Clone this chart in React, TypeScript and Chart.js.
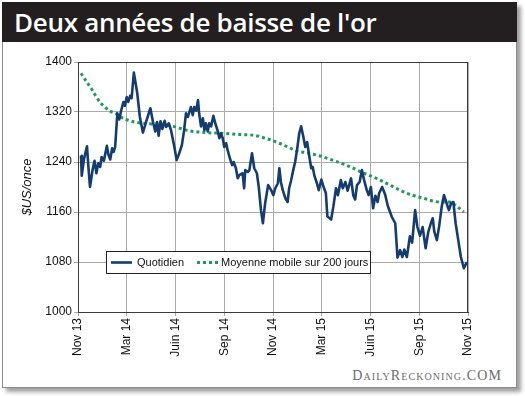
import { useEffect, useRef } from "react";
import { Chart, registerables } from "chart.js";

Chart.register(...registerables);

const TITLE = "Deux années de baisse de l'or";
const Y_TITLE = "$US/once";
const WATERMARK = "DailyReckoning.COM";
const X_TICK_LABELS = ["Nov 13", "Mar 14", "Juin 14", "Sep 14", "Nov 14", "Mar 15", "Juin 15", "Sep 15", "Nov 15"];
const WEEKS_PER_TICK = 13;
const Y_MIN = 1000;
const Y_MAX = 1400;
const Y_STEP = 80;
const SERIES_LABELS = ["Quotidien", "Moyenne mobile sur 200 jours"];

// daily gold price (position in weeks since Nov 13, price in $US/once)
const DAILY_WEEK = [
  0.8, 1.0, 1.6, 2.4, 2.8, 3.2, 3.9, 4.4, 4.9, 5.4, 5.9, 6.3, 6.9, 7.7, 8.1, 8.6, 9.1, 9.5, 9.9, 10.5,
  11.0, 11.5, 12.1, 12.5, 13.0, 13.4, 13.9, 14.3, 14.9, 15.8, 16.5, 17.3, 18.3, 19.3, 20.0, 20.6, 21.1, 21.5, 22.0, 22.5,
  23.1, 23.5, 24.2, 24.8, 25.7, 26.3, 27.0, 27.7, 28.3, 28.8, 29.3, 29.7, 30.1, 30.6, 31.0, 31.5, 32.0, 32.3, 32.8, 33.3,
  33.7, 34.1, 34.6, 35.0, 35.5, 36.1, 36.6, 37.3, 37.7, 38.1, 38.6, 39.0, 39.5, 39.9, 40.5, 41.1, 41.5, 42.1, 42.6, 43.0,
  43.9, 44.3, 44.6, 45.3, 45.7, 46.4, 47.0, 47.7, 48.2, 48.8, 49.3, 49.9, 50.7, 51.5, 52.1, 52.6, 53.3, 53.7, 54.1, 54.6,
  55.3, 55.9, 56.3, 56.8, 57.4, 57.9, 58.4, 59.0, 59.5, 60.1, 60.6, 61.1, 61.7, 62.2, 62.6, 63.0, 63.7, 64.2, 64.9, 65.5,
  66.1, 66.5, 67.5, 68.1, 68.8, 69.3, 70.1, 70.6, 71.3, 71.9, 72.8, 73.4, 73.9, 74.4, 75.1, 75.7, 76.3, 77.0, 77.5, 78.1,
  78.7, 79.3, 79.9, 80.3, 81.1, 81.9, 82.6, 83.7, 84.6, 85.2, 85.9, 86.5, 87.0, 87.7, 88.5, 89.1, 89.9, 90.5, 91.2, 91.9,
  92.7, 93.4, 94.1, 94.6, 95.0, 95.7, 96.3, 97.0, 97.6, 98.3, 98.9, 99.5, 100.1, 100.7, 101.4, 102.1, 102.9, 103.7,
];
const DAILY_PRICE = [
  1250, 1218, 1245, 1265, 1230, 1200, 1228, 1242, 1222, 1238, 1232, 1248, 1242, 1266, 1252, 1244, 1262, 1256, 1264, 1318,
  1308, 1322, 1336, 1330, 1344, 1336, 1346, 1342, 1383, 1350, 1312, 1287, 1307, 1326, 1304, 1289, 1304, 1282, 1305, 1293,
  1306, 1296, 1302, 1291, 1264, 1243, 1254, 1267, 1291, 1318, 1312, 1320, 1328, 1315, 1328, 1322, 1339, 1318, 1297, 1310,
  1291, 1302, 1289, 1302, 1297, 1314, 1302, 1289, 1278, 1286, 1278, 1264, 1270, 1259, 1246, 1235, 1240, 1230, 1214, 1219,
  1222, 1198, 1227, 1224, 1227, 1254, 1230, 1222, 1200, 1163, 1142, 1174, 1203, 1195, 1187, 1198, 1206, 1230, 1208, 1195,
  1182, 1176, 1198, 1210, 1227, 1240, 1259, 1286, 1297, 1280, 1264, 1272, 1248, 1230, 1232, 1219, 1206, 1195, 1212, 1200,
  1190, 1153, 1148, 1169, 1198, 1187, 1211, 1198, 1208, 1194, 1214, 1187, 1180, 1203, 1208, 1227, 1211, 1195, 1187, 1200,
  1166, 1186, 1176, 1190, 1200, 1188, 1170, 1152, 1142, 1087, 1099, 1088, 1100, 1088, 1121, 1111, 1163, 1136, 1122, 1136,
  1102, 1128, 1142, 1150, 1129, 1115, 1137, 1169, 1187, 1174, 1163, 1174, 1176, 1142, 1115, 1088, 1070, 1080,
];

// 200-day moving average
const MA_WEEK = [
  0.8, 2.1, 3.5, 4.8, 6.1, 7.2, 8.3, 9.5, 10.6, 11.7, 12.8, 15.0, 17.3, 19.5, 21.7, 25.3, 29.7, 34.1, 38.6, 43.0,
  46.6, 51.0, 53.7, 56.3, 58.1, 60.8, 64.3, 67.9, 72.3, 75.9, 79.5, 83.2, 87.7, 92.1, 96.5, 99.2, 101.0, 102.9,
];
const MA_PRICE = [
  1382, 1370, 1358, 1345, 1334, 1328, 1322, 1319, 1316, 1311, 1308, 1304, 1302, 1301, 1301, 1297, 1290, 1287, 1286, 1284,
  1283, 1276, 1270, 1263, 1258, 1255, 1250, 1243, 1233, 1223, 1214, 1203, 1190, 1182, 1176, 1176, 1169, 1160,
];

const FONT = '"Liberation Sans", Arial, sans-serif';

const framePlugin = {
  id: "plotFrame",
  beforeDatasetsDraw(chart: any) {
    const { ctx, chartArea: a } = chart;
    ctx.save();
    ctx.strokeStyle = "#3a3a3a";
    ctx.lineWidth = 1;
    ctx.strokeRect(Math.round(a.left) + 0.5, Math.round(a.top) + 0.5, Math.round(a.right - a.left) - 1, Math.round(a.bottom - a.top));
    ctx.restore();
  },
};

const legendPlugin = {
  id: "boxLegend",
  afterDatasetsDraw(chart: any) {
    const { ctx, chartArea: a } = chart;
    const x0 = Math.round(a.left) + 28;
    const y0 = Math.round(a.bottom) - 61;
    const w = 264;
    const h = 22;
    ctx.save();
    ctx.fillStyle = "#ffffff";
    ctx.fillRect(x0, y0, w, h);
    ctx.strokeStyle = "#222222";
    ctx.lineWidth = 1;
    ctx.strokeRect(x0 + 0.5, y0 + 0.5, w, h);
    const cy = y0 + h / 2 + 0.5;
    const sampleX = [5, 91];
    const textX = [31, 115];
    ctx.font = `11px ${FONT}`;
    ctx.textBaseline = "middle";
    ctx.textAlign = "left";
    chart.data.datasets.forEach((d: any, i: number) => {
      ctx.beginPath();
      ctx.strokeStyle = d.borderColor;
      ctx.lineWidth = d.borderWidth;
      ctx.setLineDash(d.borderDash || []);
      ctx.moveTo(x0 + sampleX[i], cy);
      ctx.lineTo(x0 + sampleX[i] + 21, cy);
      ctx.stroke();
      ctx.setLineDash([]);
      ctx.fillStyle = "#111111";
      ctx.fillText(d.label, x0 + textX[i], cy);
    });
    ctx.restore();
  },
};

export default function App() {
  const canvasRef = useRef<HTMLCanvasElement | null>(null);

  useEffect(() => {
    document.body.style.margin = "0";
    const canvas = canvasRef.current;
    if (!canvas) return;
    const chart = new Chart(canvas, {
      type: "line",
      data: {
        datasets: [
          {
            label: SERIES_LABELS[0],
            data: DAILY_WEEK.map((w, i) => ({ x: w, y: DAILY_PRICE[i] })),
            borderColor: "#143c70",
            borderWidth: 2.6,
            pointRadius: 0,
            tension: 0,
            borderJoinStyle: "round",
          },
          {
            label: SERIES_LABELS[1],
            data: MA_WEEK.map((w, i) => ({ x: w, y: MA_PRICE[i] })),
            borderColor: "#1f9a5c",
            borderWidth: 3,
            borderDash: [3, 3],
            pointRadius: 0,
            cubicInterpolationMode: "monotone",
          },
        ],
      },
      options: {
        animation: false,
        responsive: false,
        events: [],
        layout: { padding: { left: 0, top: 62, right: 57, bottom: 0 } },
        plugins: {
          legend: { display: false },
          tooltip: { enabled: false },
          title: { display: false },
        },
        scales: {
          x: {
            type: "linear",
            min: 0,
            max: WEEKS_PER_TICK * (X_TICK_LABELS.length - 1),
            afterFit: (s: any) => {
              s.height = 84;
            },
            ticks: {
              stepSize: WEEKS_PER_TICK,
              autoSkip: false,
              maxRotation: 90,
              minRotation: 90,
              padding: 2,
              color: "#111111",
              font: { family: FONT, size: 12 },
              callback: (v: any) => X_TICK_LABELS[Math.round(Number(v) / WEEKS_PER_TICK)] ?? "",
            },
            grid: { color: "#ababab", lineWidth: 1, tickLength: 4 },
            border: { display: true, color: "#333333", width: 1 },
          },
          y: {
            type: "linear",
            min: Y_MIN,
            max: Y_MAX,
            afterFit: (s: any) => {
              s.width = 78;
            },
            ticks: {
              stepSize: Y_STEP,
              padding: 2,
              color: "#111111",
              font: { family: FONT, size: 12 },
              callback: (v: any) => String(v),
            },
            grid: { color: "#ababab", lineWidth: 1, tickLength: 4 },
            border: { display: true, color: "#333333", width: 1 },
            title: {
              display: true,
              text: Y_TITLE,
              color: "#111111",
              font: { family: FONT, size: 13, style: "italic" },
              padding: { top: 20, bottom: 0 },
            },
          },
        },
      },
      plugins: [framePlugin, legendPlugin],
    } as any);
    return () => chart.destroy();
  }, []);

  return (
    <div style={{ position: "relative", width: 525, height: 396, background: "#ffffff", overflow: "hidden" }}>
      <div
        style={{
          position: "absolute",
          left: 2,
          top: 2,
          width: 515,
          height: 386,
          boxSizing: "border-box",
          border: "1px solid #8c8c8c",
          background: "#ffffff",
          boxShadow: "4px 4px 4px rgba(0,0,0,0.38)",
        }}
      >
        <div
          style={{
            position: "absolute",
            left: -1,
            top: -1,
            width: 515,
            height: 40,
            background: "#231f20",
          }}
        />
      </div>
      <div
        style={{
          position: "absolute",
          left: 14,
          top: 3,
          height: 38,
          lineHeight: "38px",
          color: "#ffffff",
          fontFamily: '"Open Sans", sans-serif',
          fontWeight: 600,
          fontSize: 26,
          whiteSpace: "nowrap",
          letterSpacing: "-0.3px",
        }}
      >
        {TITLE}
      </div>
      <div
        style={{
          position: "absolute",
          right: 23,
          top: 368,
          color: "#6c6c6c",
          fontFamily: '"Liberation Serif", serif',
          fontVariant: "small-caps",
          fontSize: 14,
          letterSpacing: "1.1px",
          whiteSpace: "nowrap",
          lineHeight: "16px",
        }}
      >
        {WATERMARK}
      </div>
      <canvas ref={canvasRef} width={525} height={396} style={{ position: "absolute", left: 0, top: 0 }} />
    </div>
  );
}
